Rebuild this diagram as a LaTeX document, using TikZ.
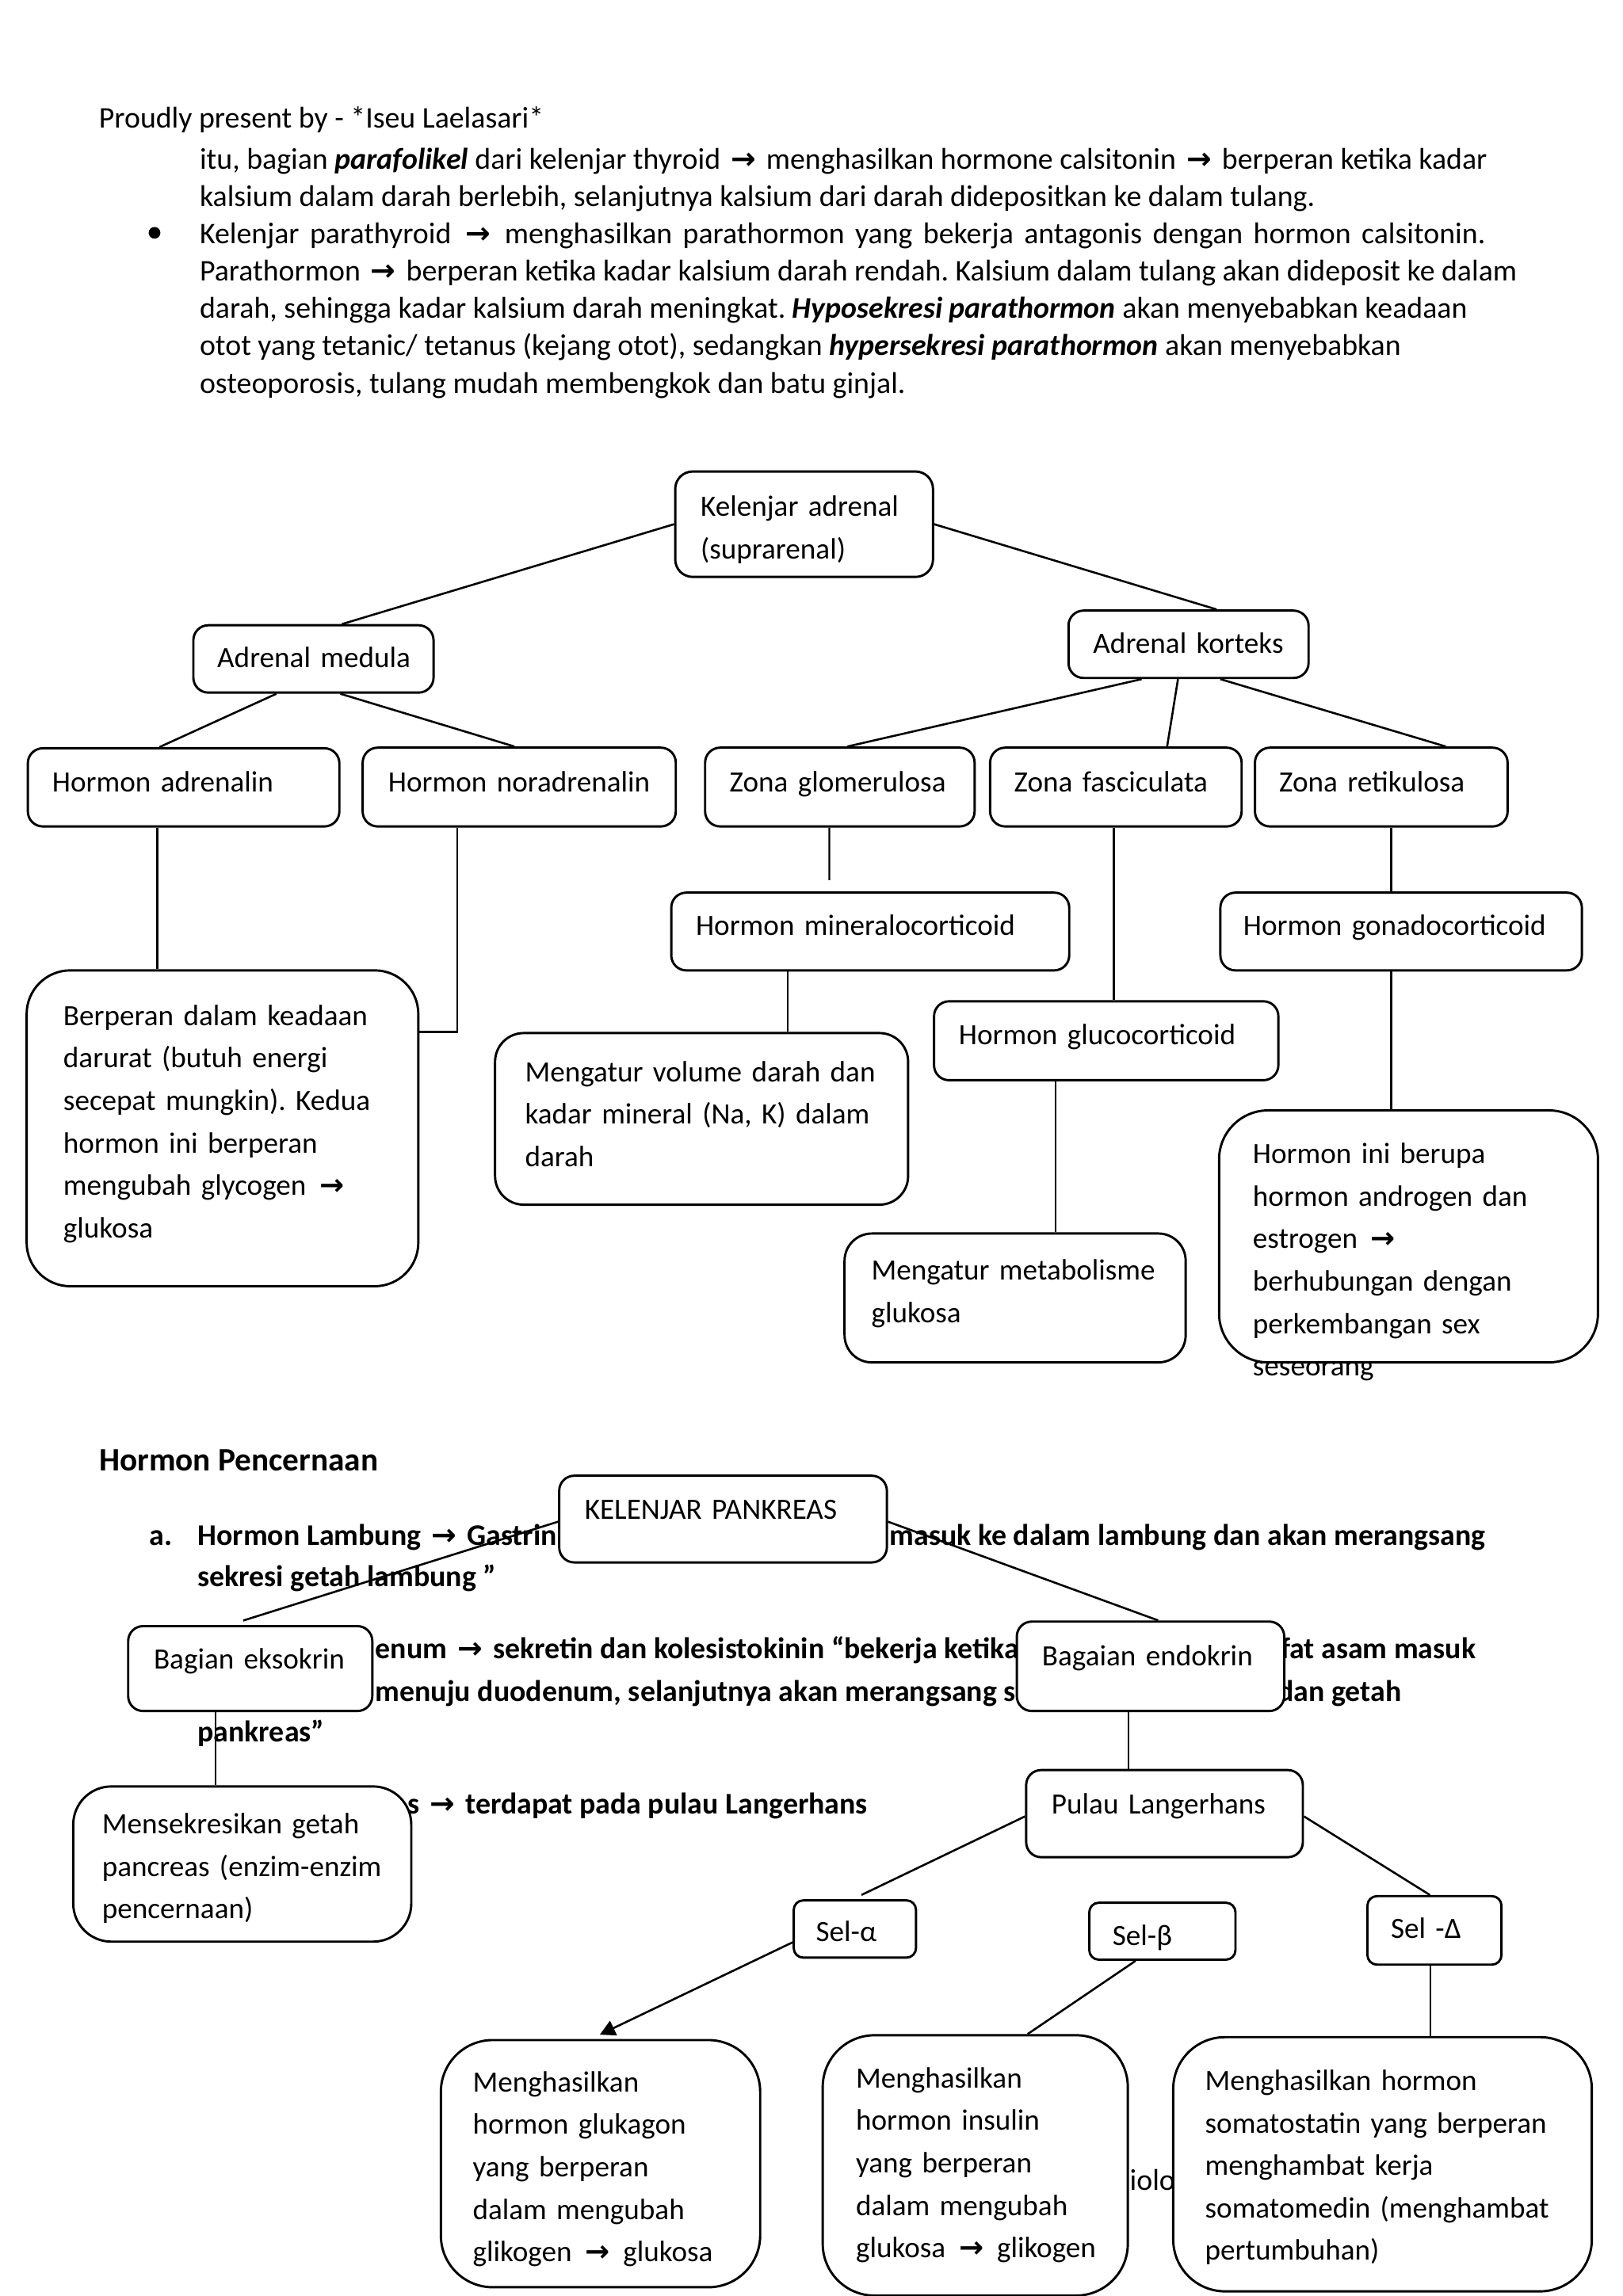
\documentclass[tikz,border=0pt]{standalone}
\usepackage{fontspec}
\setmainfont{Carlito}
\newfontfamily\symf{DejaVu Sans}
\usetikzlibrary{calc,fit,arrows.meta}
\newcommand\arw{\kern1.3pt{\symf\bfseries →}\kern1.3pt}
\newcommand\bxf{\fontsize{10.8pt}{15.58pt}\selectfont}
\newcommand\ptf{\fontsize{11pt}{13.7pt}\selectfont}
\frenchspacing
\begin{document}
\begin{tikzpicture}[x=0.5372pt,y=-0.5372pt,
  bx/.style={draw, fill=white, line width=0.85pt, rounded corners=#1, inner sep=0pt},
  bx/.default=5.5pt,
  tx/.style={anchor=base west, inner sep=0pt, font=\bxf, text width=#1, align=left},
  tx/.default=300pt,
  pl/.style={anchor=base west, inner sep=0pt, font=\ptf},
  bl/.style={anchor=base west, inner sep=0pt, font=\ptf\bfseries},
  cn/.style={line width=0.75pt},
  vl/.style={line width=0.65pt}]
\path[use as bounding box, fill=white] (0,0) rectangle (1108,1568);

% ---------- top paragraph ----------
\node[pl] (p0) at (67.2,87.6) {Proudly present by - *Iseu Laelasari*};
\node[pl] (p1) at (136,115.4) {itu, bagian \textbf{\textit{parafolikel}} dari kelenjar thyroid \arw{} menghasilkan hormone calsitonin \arw{} berperan ketika kadar};
\node[pl] (p2) at (136,140.9) {kalsium dalam darah berlebih, selanjutnya kalsium dari darah didepositkan ke dalam tulang.};
\node[circle, fill=black, inner sep=0pt, minimum size=4.3pt] (bul) at (105.5,159) {};
\node[pl] (p3) at (136,166.4) {\spaceskip=3.9pt plus 1pt\relax Kelenjar parathyroid \arw{} menghasilkan parathormon yang bekerja antagonis dengan hormon calsitonin.};
\node[pl] (p4) at (136,191.9) {Parathormon \arw{} berperan ketika kadar kalsium darah rendah. Kalsium dalam tulang akan dideposit ke dalam};
\node[pl] (p5) at (136,217.4) {darah, sehingga kadar kalsium darah meningkat. \textbf{\textit{Hyposekresi parathormon}} akan menyebabkan keadaan};
\node[pl] (p6) at (136,242.9) {otot yang tetanic/ tetanus (kejang otot), sedangkan \textbf{\textit{hypersekresi parathormon}} akan menyebabkan};
\node[pl] (p7) at (136,268.4) {osteoporosis, tulang mudah membengkok dan batu ginjal.};

% ---------- section 2 text (behind boxes) ----------
\node[anchor=base west, inner sep=0pt, font=\fontsize{12pt}{14pt}\selectfont\bfseries] (h0) at (67.4,1004.6) {Hormon Pencernaan};
\node[bl] (h1a) at (101.6,1055.3) {a.};
\node[bl] (h1b) at (134.6,1055.3) {Hormon Lambung \arw{} Gastrin};
\node[bl] (h1c) at (607,1055.3) {masuk ke dalam lambung dan akan merangsang};
\node[bl] (h2) at (134.6,1083.3) {sekresi getah lambung ”};
\node[bl] (h3a) at (256,1132.6) {enum \arw{} sekretin dan kolesistokinin “bekerja ketika};
\node[bl] (h3b) at (874,1132.6) {fat asam masuk};
\node[bl] (h4a) at (256,1161.8) {menuju duodenum, selanjutnya akan merangsang sekresi};
\node[bl] (h4b) at (872,1161.8) {dan getah};
\node[bl] (h5) at (134.6,1189.6) {pankreas”};
\node[bl] (h6) at (278,1239) {s \arw{} terdapat pada pulau Langerhans};
\node[pl] (h7) at (771,1496) {iolo};

% ---------- boxes: adrenal ----------
\node[bx=6.4pt, fit={(461,322) (637,394)}] (kel) {};
\node[bx, fit={(132,427) (296,473)}] (med) {};
\node[bx, fit={(729.5,417) (893.4,463)}] (kor) {};
\node[bx, fit={(19,511) (231.7,564.4)}] (adr) {};
\node[bx, fit={(247.6,510.6) (461.4,564.4)}] (nor) {};
\node[bx, fit={(481.4,510.6) (665.4,564.4)}] (glo) {};
\node[bx, fit={(676,510.6) (847.7,564.4)}] (fas) {};
\node[bx, fit={(856.8,510.6) (1029.3,564.4)}] (ret) {};
\node[bx, fit={(458.3,609.6) (730,662.7)}] (min) {};
\node[bx, fit={(833.2,609.6) (1080,662.7)}] (gon) {};
\node[bx, fit={(637.7,683.8) (872.8,737.7)}] (glc) {};
\node[bx=16pt, fit={(18.2,662.7) (285.6,878.4)}] (ber) {};
\node[bx=10.5pt, fit={(338,705.5) (620,822.7)}] (vol) {};
\node[bx=10pt, fit={(576.6,842.4) (809.5,930.4)}] (met) {};
\node[bx=18pt, fit={(832.3,758.3) (1091,930.4)}] (ini) {};

% ---------- boxes: pancreas ----------
\node[bx, fit={(381.8,1007.8) (605.5,1067)}] (pan) {};
\node[bx, fit={(87.5,1110.5) (254.2,1168.5)}] (eks) {};
\node[bx, fit={(694.2,1107.4) (876.8,1168.5)}] (end) {};
\node[bx=14pt, fit={(50,1220) (280.8,1326)}] (sek) {};
\node[bx, fit={(700.6,1208.8) (889.5,1268.3)}] (pul) {};
\node[bx=3.5pt, fit={(541.9,1297.8) (625.4,1336.9)}] (sa) {};
\node[bx=3.5pt, fit={(743.7,1299.4) (843.5,1338.3)}] (sb) {};
\node[bx=3.5pt, fit={(933.6,1294.9) (1025.1,1341.7)}] (sd) {};
\node[bx=19pt, fit={(301,1393.2) (519,1562)}] (glu) {};
\node[bx=19pt, fit={(561.7,1389.9) (770,1567.7)}] (ins) {};
\node[bx=19pt, fit={(801,1391.2) (1086.8,1564.8)}] (som) {};

% ---------- connectors: adrenal ----------
\draw[cn] (kel.west) -- ($(med.north)+(19.5,0)$);
\draw[cn] (kel.east) -- ($(kor.north)+(19.2,0)$);
\draw[cn] ($(med.south)+(-25.3,0)$) -- ($(adr.north)+(-16.5,0)$);
\draw[cn] ($(med.south)+(18.4,0)$) -- ($(nor.north)+(-3.3,0)$);
\draw[cn] ($(kor.south)+(-32,0)$) -- ($(glo.north)+(5.2,0)$);
\draw[cn] ($(kor.south)+(-7.2,0)$) -- ($(fas.north)+(35,0)$);
\draw[cn] ($(kor.south)+(21.7,0)$) -- ($(ret.north)+(44,0)$);
\coordinate (c1) at ($(adr.south)+(-18,0)$);
\draw[vl] (c1) -- (c1 |- ber.north);
\coordinate (c2) at ($(nor.south)+(-42.4,0)$);
\coordinate (c2e) at ($(ber.north east)+(0,42.8)$);
\draw[vl] (c2) |- (c2e);
\coordinate (c3) at ($(glo.south)+(-7.2,0)$);
\coordinate (c3e) at ($(min.north)+(-28,-7.8)$);
\draw[vl] (c3) -- (c3e);
\coordinate (c4) at ($(fas.south)+(-1.4,0)$);
\draw[vl] (c4) -- (c4 |- glc.north);
\coordinate (c5) at ($(ret.south)+(6.8,0)$);
\draw[vl] (c5) -- (c5 |- gon.north);
\coordinate (c6) at ($(min.south)+(-56.2,0)$);
\draw[vl] (c6) -- (c6 |- vol.north);
\coordinate (c7) at ($(glc.south)+(-34.7,0)$);
\draw[vl] (c7) -- (c7 |- met.north);
\coordinate (c8) at ($(gon.south)+(-6.8,0)$);
\draw[vl] (c8) -- (c8 |- ini.north);

% ---------- connectors: pancreas ----------
\draw[cn] ($(pan.west)+(0,1.8)$) -- ($(eks.north)+(-4.8,-3)$);
\draw[cn] ($(pan.east)+(0,1.8)$) -- ($(end.north)+(5.2,0)$);
\coordinate (d1) at ($(eks.south)+(-23.8,0)$);
\draw[vl] (d1) -- (d1 |- sek.north);
\coordinate (d2) at ($(end.south)+(-15,0)$);
\draw[vl] (d2) -- (d2 |- pul.north);
\draw[cn] ($(pul.west)+(0,1.9)$) -- ($(sa.north)+(4.5,-2.9)$);
\draw[cn] ($(pul.east)+(0,1.9)$) -- ($(sd.north)+(-3.1,0)$);
\draw[cn,-{Triangle[length=5.6pt,width=5.8pt]}] ($(sa.west)+(0,9.1)$) -- ($(glu.north)+(-0.5,-2.9)$);
\draw[cn] ($(sb.south)+(-18.3,0)$) -- ($(ins.north)+(35.75,0)$);
\coordinate (d3) at ($(sd.south)+(-2.65,0)$);
\draw[vl] (d3) -- (d3 |- som.north);

% ---------- box texts ----------
\node[tx] (tkel) at (478,352.6) {Kelenjar adrenal\\(suprarenal)};
\node[tx] (tmed) at (148,455.6) {Adrenal medula};
\node[tx] (tkor) at (746,446) {Adrenal korteks};
\node[tx] (tadr) at (35.3,541) {Hormon adrenalin};
\node[tx] (tnor) at (264.7,541) {Hormon noradrenalin};
\node[tx] (tglo) at (497.8,541) {Zona glomerulosa};
\node[tx] (tfas) at (692,541) {Zona fasciculata};
\node[tx] (tret) at (873,541) {Zona retikulosa};
\node[tx] (tmin) at (474.7,638.6) {Hormon mineralocorticoid};
\node[tx] (tgon) at (848.5,638.6) {Hormon gonadocorticoid};
\node[tx] (tglc) at (654.3,713.3) {Hormon glucocorticoid};
\node[tx] (tber) at (42.9,700.3) {Berperan dalam keadaan\\darurat (butuh energi\\secepat mungkin). Kedua\\hormon ini berperan\\mengubah glycogen \arw\\glukosa};
\node[tx] (tvol) at (358.1,738.6) {Mengatur volume darah dan\\kadar mineral (Na, K) dalam\\darah};
\node[tx] (tmet) at (594.6,874.3) {Mengatur metabolisme\\glukosa};
\node[tx] (tini) at (855,794.6) {Hormon ini berupa\\hormon androgen dan\\estrogen \arw\\berhubungan dengan\\perkembangan sex\\seseorang};

\node[tx] (tpan) at (398.8,1037.4) {KELENJAR PANKREAS};
\node[tx] (teks) at (104.6,1140) {Bagian eksokrin};
\node[tx] (tend) at (711.1,1137.6) {Bagaian endokrin};
\node[tx] (tpul) at (717.6,1239) {Pulau Langerhans};
\node[tx] (tsek) at (69.3,1252.3) {Mensekresikan getah\\pancreas (enzim-enzim\\pencernaan)};
\node[tx] (tsa) at (556.7,1326) {Sel-α};
\node[tx] (tsb) at (759.2,1328.6) {Sel-β};
\node[tx] (tsd) at (949.2,1323.6) {Sel -Δ};
\node[tx] (tglu) at (322.4,1428.6) {Menghasilkan\\hormon glukagon\\yang berperan\\dalam mengubah\\glikogen \arw{} glukosa};
\node[tx] (tins) at (584,1425.8) {Menghasilkan\\hormon insulin\\yang berperan\\dalam mengubah\\glukosa \arw{} glikogen};
\node[tx] (tsom) at (822.4,1427.6) {Menghasilkan hormon\\somatostatin yang berperan\\menghambat kerja\\somatomedin (menghambat\\pertumbuhan)};
\end{tikzpicture}
\end{document}
